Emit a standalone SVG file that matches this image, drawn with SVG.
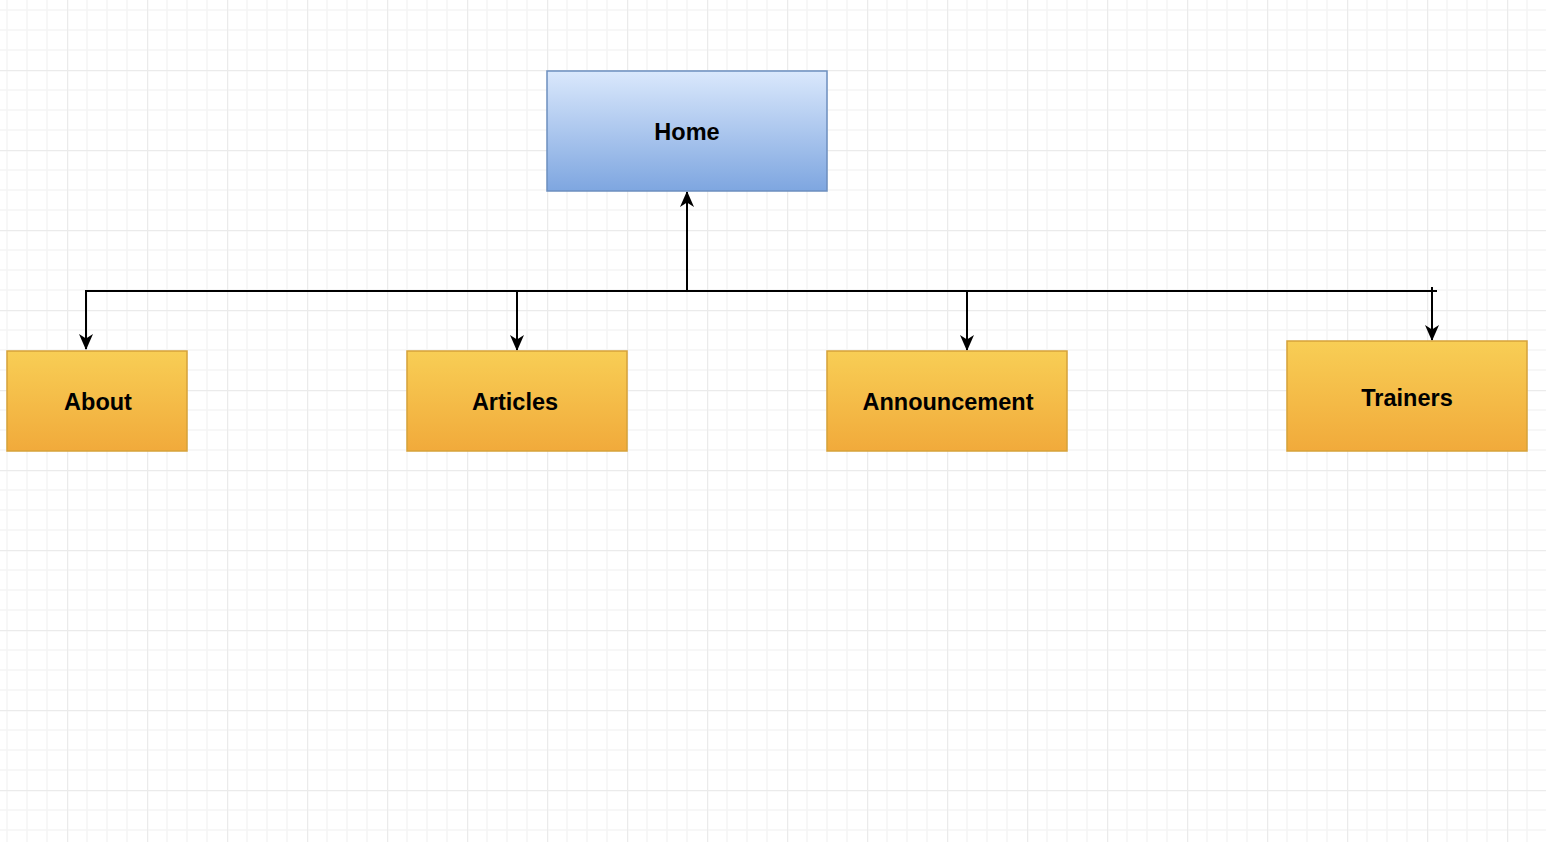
<svg xmlns="http://www.w3.org/2000/svg" width="1546" height="842" viewBox="0 0 1546 842">
  <defs>
    <pattern id="grid" x="67" y="70" width="80" height="80" patternUnits="userSpaceOnUse">
      <path d="M20,0V80M40,0V80M60,0V80M0,20H80M0,40H80M0,60H80" stroke="#f5f5f5" stroke-width="1.5" fill="none"/>
      <path d="M0.5,0V80M0,0.5H80" stroke="#ebebeb" stroke-width="1.5" fill="none"/>
    </pattern>
    <linearGradient id="blue" x1="0" y1="0" x2="0" y2="1">
      <stop offset="0" stop-color="#dae8fc"/>
      <stop offset="1" stop-color="#7ea6e0"/>
    </linearGradient>
    <linearGradient id="orange" x1="0" y1="0" x2="0" y2="1">
      <stop offset="0" stop-color="#f8ce55"/>
      <stop offset="1" stop-color="#f1aa3b"/>
    </linearGradient>
    <marker id="arr" viewBox="0 0 16 16" refX="15" refY="8" markerWidth="16" markerHeight="16" markerUnits="userSpaceOnUse" orient="auto">
      <path d="M0,1 L16,8 L0,15 L4.5,8 Z" fill="#000"/>
    </marker>
    <style>
      .node-blue { fill: url(#blue); stroke: #6c8ebf; stroke-width: 1.5; }
      .node-orange { fill: url(#orange); stroke: #d6a23a; stroke-width: 1.5; }
      .label { font-family: "Liberation Sans", Arial, sans-serif; font-weight: bold; font-size: 23.5px; fill: #000; text-anchor: middle; }
      .conn { fill: none; stroke: #000; stroke-width: 2; }
    </style>
  </defs>
  <rect width="1546" height="842" fill="#ffffff"/>
  <rect width="1546" height="842" fill="url(#grid)"/>

  <g id="connectors">
    <path class="conn" d="M687,291 V192" marker-end="url(#arr)"/>
    <path class="conn" d="M687,291 H86 V349" marker-end="url(#arr)"/>
    <path class="conn" d="M517,291 V350" marker-end="url(#arr)"/>
    <path class="conn" d="M967,291 V350" marker-end="url(#arr)"/>
    <path class="conn" d="M687,291 H1437"/>
    <path class="conn" d="M1432,287 V340" marker-end="url(#arr)"/>
  </g>

  <g id="home">
    <rect class="node-blue" x="547" y="71" width="280" height="120"/>
    <text class="label" x="687" y="139.5">Home</text>
  </g>
  <g id="about">
    <rect class="node-orange" x="7" y="351" width="180" height="100"/>
    <text class="label" x="98" y="409.5">About</text>
  </g>
  <g id="articles">
    <rect class="node-orange" x="407" y="351" width="220" height="100"/>
    <text class="label" x="515" y="409.5">Articles</text>
  </g>
  <g id="announcement">
    <rect class="node-orange" x="827" y="351" width="240" height="100"/>
    <text class="label" x="948" y="409.5">Announcement</text>
  </g>
  <g id="trainers">
    <rect class="node-orange" x="1287" y="341" width="240" height="110"/>
    <text class="label" x="1407" y="405.5">Trainers</text>
  </g>
</svg>
